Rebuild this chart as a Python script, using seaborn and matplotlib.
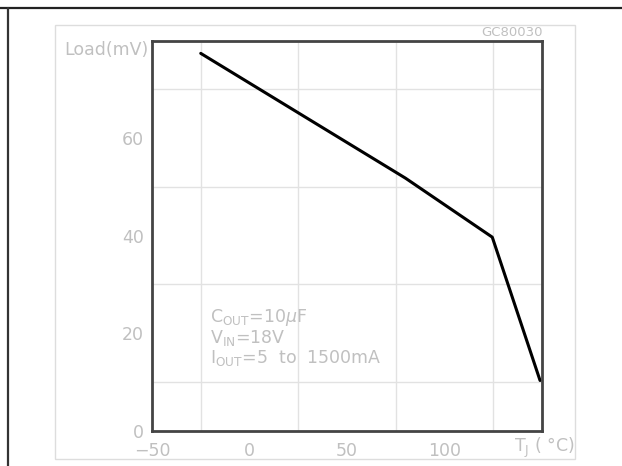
import numpy as np
import pandas as pd
import matplotlib
matplotlib.use('Agg')
import matplotlib.pyplot as plt
from matplotlib.patches import Rectangle
import seaborn as sns

# values
temp_c = [-25, 80, 124.5, 149]
load_mv = [77.4, 51.8, 39.7, 10.3]

x_ticks = [-50, 0, 50, 100]
y_ticks = [0, 20, 40, 60]

sns.set_style('white')
plt.rcParams['font.family'] = ['DejaVu Sans']
plt.rcParams['mathtext.fontset'] = 'dejavusans'

light = '#c0c0c0'
W, H = 622, 466

df = pd.DataFrame({'T': temp_c, 'Load': load_mv})

fig = plt.figure(figsize=(W / 100, H / 100), dpi=100)
ax = fig.add_axes([152 / W, 1 - 430.7 / H, 390 / W, 390 / H])

# grid every 25 degC and 10 mV
ax.set_xlim(-50, 150)
ax.set_ylim(0, 80)
ax.set_xticks(np.arange(-50, 151, 25), minor=True)
ax.set_yticks(np.arange(0, 81, 10), minor=True)
ax.grid(which='minor', color='#e2e2e2', lw=1)
ax.set_axisbelow(True)

sns.lineplot(data=df, x='T', y='Load', ax=ax, color='black', lw=2.2)

ax.set_xticks(x_ticks)
ax.set_yticks(y_ticks)
ax.set_xticklabels(['\u221250', '0', '50', '100'])
ax.tick_params(which='both', length=0)
ax.tick_params(axis='x', pad=8, labelsize=12.5, labelcolor=light)
ax.tick_params(axis='y', pad=6, labelsize=12.5, labelcolor=light)
ax.set_xlabel('')
ax.set_ylabel('')
for s in ax.spines.values():
    s.set_color('#444444')
    s.set_linewidth(2)

# axis captions
fig.text(148 / W, 1 - 55 / H, 'Load(mV)', ha='right', va='baseline',
         fontsize=12.5, color=light)
fig.text(575 / W, 1 - 448 / H, r'T$_\mathregular{J}$ ( °C)', ha='right', va='center',
         fontsize=12.5, color=light)
fig.text(543 / W, 1 - 35.7 / H, 'GC80030', ha='right', va='baseline',
         fontsize=9.5, color=light)

# conditions text
ax.text(210 / W, 1 - 321.7 / H, r'C$_\mathregular{OUT}$=10$\mu$F', transform=fig.transFigure,
        va='baseline', fontsize=12.5, color=light)
ax.text(210 / W, 1 - 343.3 / H, r'V$_\mathregular{IN}$=18V', transform=fig.transFigure,
        va='baseline', fontsize=12.5, color=light)
ax.text(210 / W, 1 - 363.3 / H, r'I$_\mathregular{OUT}$=5  to  1500mA', transform=fig.transFigure,
        va='baseline', fontsize=12.5, color=light)

# page decorations: inner frame, rules and cut-off title
fig.patches.append(Rectangle((55 / W, 1 - 459.3 / H), 520 / W, 434.3 / H,
                             transform=fig.transFigure, fill=False,
                             edgecolor='#dddddd', lw=1))
fig.add_artist(plt.Line2D([0, 1], [1 - 7.5 / H, 1 - 7.5 / H], transform=fig.transFigure,
                          color='#222222', lw=1.6))
fig.add_artist(plt.Line2D([8 / W, 8 / W], [0, 1 - 7.5 / H], transform=fig.transFigure,
                          color='#333333', lw=1.6))
fig.text(11 / W, 1 + 6.5 / H, 'Figure 9. Load Regulation vs. Temperature',
         ha='left', va='baseline', fontsize=21, fontweight='bold',
         family='Liberation Sans', color='black')

fig.savefig('out.png', dpi=100)
